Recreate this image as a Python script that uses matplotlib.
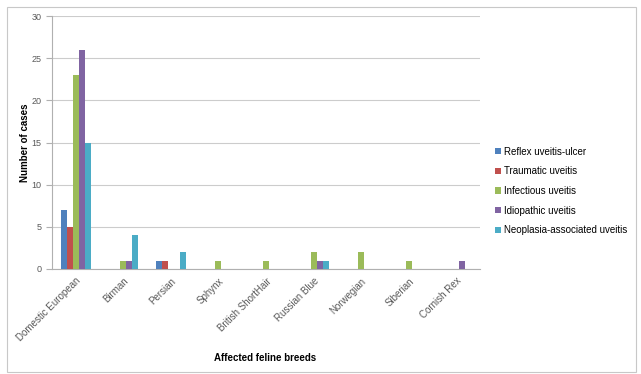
import numpy as np
import matplotlib.pyplot as plt
from matplotlib.patches import Rectangle

plt.rcParams['font.family'] = ['Liberation Sans', 'DejaVu Sans']

breeds = ['Domestic European', 'Birman', 'Persian', 'Sphynx', 'British ShortHair',
          'Russian Blue', 'Norwegian', 'Siberian', 'Cornish Rex']
series = ['Reflex uveitis-ulcer', 'Traumatic uveitis', 'Infectious uveitis',
          'Idiopathic uveitis', 'Neoplasia-associated uveitis']
reflex = [7, 0, 1, 0, 0, 0, 0, 0, 0]
traumatic = [5, 0, 1, 0, 0, 0, 0, 0, 0]
infectious = [23, 1, 0, 1, 1, 2, 2, 1, 0]
idiopathic = [26, 1, 0, 0, 0, 1, 0, 0, 1]
neoplasia = [15, 4, 2, 0, 0, 1, 0, 0, 0]
colors = ['#4F81BD', '#C0504D', '#9BBB59', '#8064A2', '#4BACC6']

fig = plt.figure(figsize=(6.41, 3.74), dpi=100)
ax = fig.add_axes([52/641, 1 - 269/374, (480 - 52)/641, (269 - 16)/374])

# chart frame
fig.patches.append(Rectangle((7/641, 2/374), 629/641, 365/374, transform=fig.transFigure,
                             fill=False, edgecolor='#c8c8c8', linewidth=0.8))

x = np.arange(len(breeds))
w = 0.126
for i, (vals, name) in enumerate(zip([reflex, traumatic, infectious, idiopathic, neoplasia], series)):
    ax.bar(x + (i - 2) * w, vals, w, color=colors[i], label=name, zorder=3)

ax.set_xlim(-0.5, len(breeds) - 0.5)
ax.set_ylim(0, 30)
ax.set_yticks(range(0, 31, 5))
ax.yaxis.grid(True, color='#cccccc', linewidth=0.8, zorder=0)
for s in ['top', 'right']:
    ax.spines[s].set_visible(False)
ax.spines['left'].set_color('#b0b0b0')
ax.spines['bottom'].set_color('#b0b0b0')
ax.tick_params(axis='y', labelsize=6.5, colors='#595959', length=4, color='#b0b0b0')
ax.tick_params(axis='x', length=0, labelsize=7, colors='#595959', pad=5)
ax.set_xticks(x)
ax.set_xticklabels(breeds, rotation=45, ha='right', rotation_mode='anchor')

ax.set_ylabel('Number of cases', fontsize=7, fontweight='bold', labelpad=1)
fig.text(265/641, 1 - 358/374, 'Affected feline breeds', fontsize=7, fontweight='bold',
         ha='center', va='center')

ax.legend(loc='center left', bbox_to_anchor=(486/641, 1 - 191/374), bbox_transform=fig.transFigure,
          frameon=False, fontsize=7, handlelength=0.6, handleheight=0.6, handletextpad=0.4,
          labelspacing=1.0)

fig.savefig('out.png', dpi=100)
